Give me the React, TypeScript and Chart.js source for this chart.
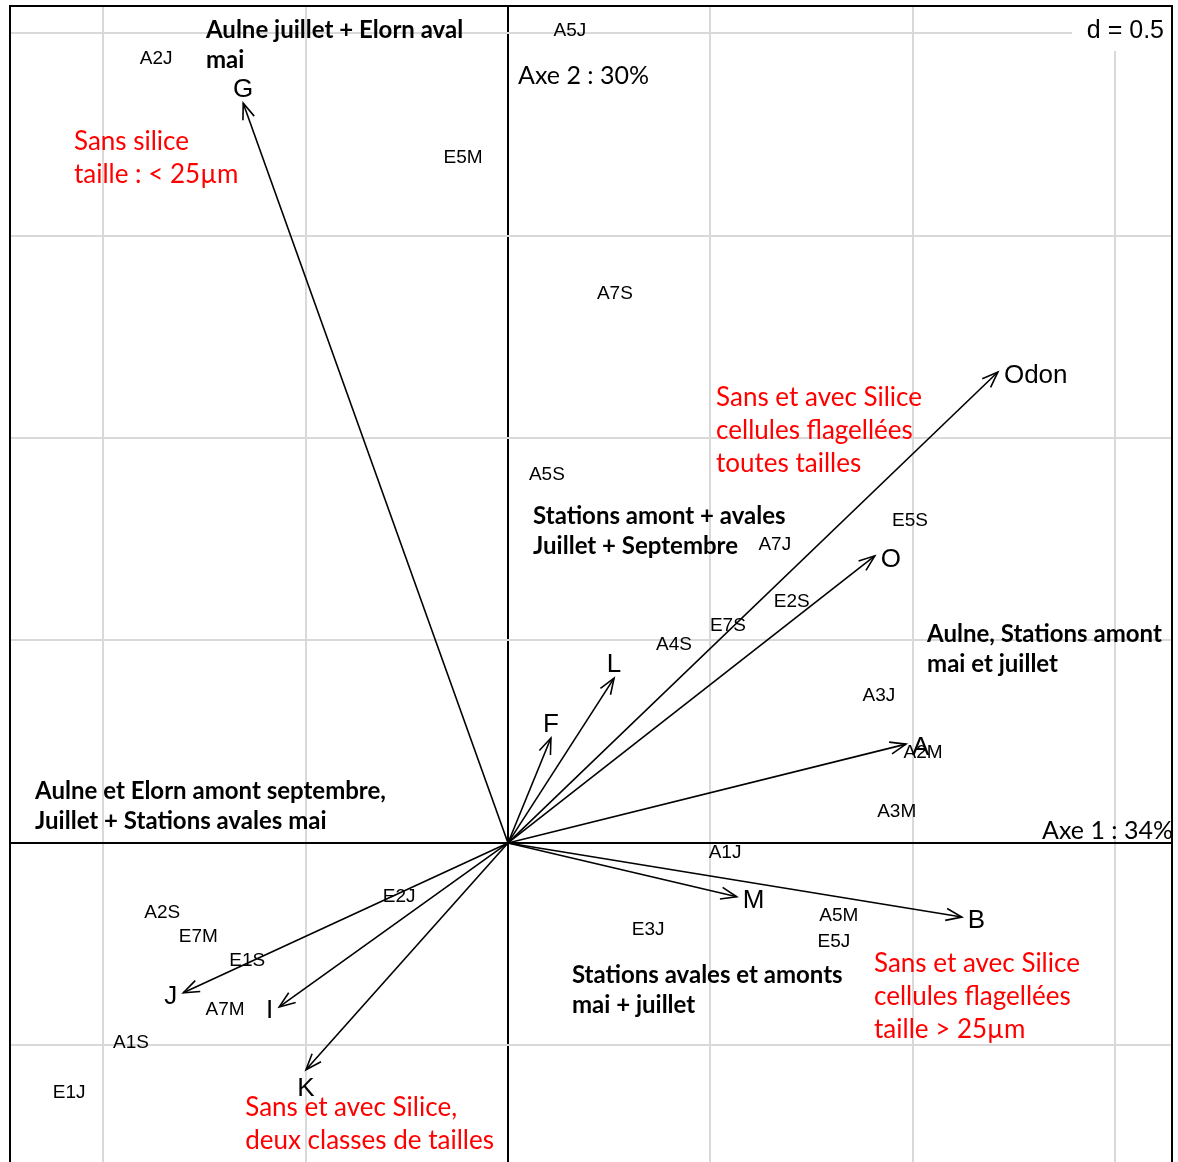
import { useEffect, useRef } from "react";
import { Chart, registerables } from "chart.js";

Chart.register(...registerables);

// Variables (arrows)
const arrowNames = ["G", "Odon", "O", "L", "F", "A", "M", "B", "J", "I", "K"];
const arrowX = [-0.654, 1.21, 0.906, 0.262, 0.106, 0.983, 0.565, 1.121, -0.802, -0.565, -0.499];
const arrowY = [1.827, 1.163, 0.709, 0.407, 0.259, 0.244, -0.133, -0.183, -0.37, -0.405, -0.56];

// Stations (labels)
const stationNames = [
  "A2J", "A5J", "E5M", "A7S", "A5S", "E5S", "A7J", "E2S", "E7S", "A4S", "A3J", "A2M",
  "A3M", "A1J", "A5M", "E5J", "E3J", "E2J", "A2S", "E7M", "E1S", "A7M", "A1S", "E1J",
];
const stationX = [
  -0.869, 0.153, -0.111, 0.264, 0.096, 0.993, 0.659, 0.701, 0.543, 0.41, 0.916, 1.025,
  0.96, 0.536, 0.817, 0.805, 0.346, -0.269, -0.854, -0.765, -0.644, -0.699, -0.931, -1.084,
];
const stationY = [
  1.938, 2.008, 1.694, 1.36, 0.911, 0.798, 0.738, 0.598, 0.538, 0.491, 0.365, 0.225,
  0.079, -0.022, -0.178, -0.242, -0.212, -0.131, -0.17, -0.23, -0.289, -0.41, -0.491, -0.615,
];

// Axis extents and grid
const xMin = -1.23;
const xMax = 1.64;
const yMin = -0.788;
const yMax = 2.067;
const gridStep = 0.5;
const gridLabel = "d = 0.5";
const axis1Label = "Axe 1 : 34%";
const axis2Label = "Axe 2 : 30%";

// Annotations (text blocks)
const boldNotes = [
  { lines: ["Aulne juillet + Elorn aval", "mai"], x: -0.746, y: 2.007 },
  { lines: ["Stations amont + avales", "Juillet + Septembre"], x: 0.062, y: 0.807 },
  { lines: ["Aulne, Stations amont", "mai et juillet"], x: 1.035, y: 0.516 },
  { lines: ["Aulne et Elorn amont septembre,", "Juillet + Stations avales mai"], x: -1.168, y: 0.128 },
  { lines: ["Stations avales et amonts", "mai + juillet"], x: 0.158, y: -0.326 },
];
const redNotes = [
  { lines: ["Sans silice", "taille : < 25µm"], x: -1.072, y: 1.733 },
  { lines: ["Sans et avec Silice", "cellules flagellées", "toutes tailles"], x: 0.514, y: 1.099 },
  { lines: ["Sans et avec Silice", "cellules flagellées", "taille > 25µm"], x: 0.904, y: -0.299 },
  { lines: ["Sans et avec Silice,", "deux classes de tailles"], x: -0.649, y: -0.654 },
];

const SANS = "'Liberation Sans', Arial, sans-serif";
const CAL = "Lato, 'Open Sans', sans-serif";
const SQUEEZE = 1.0;

function drawNote(ctx: CanvasRenderingContext2D, text: string, x: number, y: number, font: string, color: string, align: CanvasTextAlign = "left") {
  ctx.save();
  ctx.font = font;
  ctx.fillStyle = color;
  ctx.textBaseline = "middle";
  ctx.textAlign = align;
  ctx.translate(x, y);
  ctx.scale(SQUEEZE, 1);
  ctx.fillText(text, 0, 0);
  ctx.restore();
}

const biplotPlugin = {
  id: "biplot",
  beforeDatasetsDraw(chart: any) {
    const ctx = chart.ctx as CanvasRenderingContext2D;
    const xs = chart.scales.x;
    const ys = chart.scales.y;
    boldNotes.forEach((n) => {
      n.lines.forEach((l, i) => {
        drawNote(ctx, l, xs.getPixelForValue(n.x), ys.getPixelForValue(n.y) + i * 30, `bold 24px ${CAL}`, "#000");
      });
    });
    redNotes.forEach((n) => {
      n.lines.forEach((l, i) => {
        drawNote(ctx, l, xs.getPixelForValue(n.x), ys.getPixelForValue(n.y) + i * 33, `26px ${CAL}`, "#ff0000");
      });
    });
  },
  afterDatasetsDraw(chart: any) {
    const ctx = chart.ctx as CanvasRenderingContext2D;
    const xs = chart.scales.x;
    const ys = chart.scales.y;
    const area = chart.chartArea;

    // arrowheads + arrow labels
    arrowNames.forEach((name, i) => {
      const meta = chart.getDatasetMeta(i);
      const p0 = meta.data[0];
      const p1 = meta.data[1];
      const dx = p1.x - p0.x;
      const dy = p1.y - p0.y;
      const ang = Math.atan2(dy, dx);
      const L = 17;
      const a = 0.36;
      ctx.save();
      ctx.strokeStyle = "#000";
      ctx.lineWidth = 1.6;
      ctx.beginPath();
      ctx.moveTo(p1.x - L * Math.cos(ang - a), p1.y - L * Math.sin(ang - a));
      ctx.lineTo(p1.x, p1.y);
      ctx.lineTo(p1.x - L * Math.cos(ang + a), p1.y - L * Math.sin(ang + a));
      ctx.stroke();
      ctx.font = `26px ${SANS}`;
      ctx.fillStyle = "#000";
      if (Math.abs(dx) > Math.abs(dy)) {
        ctx.textBaseline = "middle";
        ctx.textAlign = dx > 0 ? "left" : "right";
        ctx.fillText(name, p1.x + (dx > 0 ? 6 : -6), p1.y + 4);
      } else {
        ctx.textAlign = "center";
        if (dy < 0) {
          ctx.textBaseline = "alphabetic";
          ctx.fillText(name, p1.x, p1.y - 6);
        } else {
          ctx.textBaseline = "top";
          ctx.fillText(name, p1.x, p1.y + 6);
        }
      }
      ctx.restore();
    });

    // station labels
    const smeta = chart.getDatasetMeta(arrowNames.length);
    ctx.save();
    ctx.font = `19px ${SANS}`;
    ctx.fillStyle = "#000";
    ctx.textAlign = "center";
    ctx.textBaseline = "middle";
    stationNames.forEach((s, i) => {
      const p = smeta.data[i];
      ctx.fillText(s, p.x, p.y + 1);
    });
    ctx.restore();

    // axis percentage labels
    drawNote(ctx, axis2Label, xs.getPixelForValue(0) + 10, ys.getPixelForValue(1.894), `25px ${CAL}`, "#000");
    drawNote(ctx, axis1Label, area.right + 1, ys.getPixelForValue(0) - 12, `25px ${CAL}`, "#000", "right");

    // d = 0.5 box
    ctx.save();
    ctx.fillStyle = "#fff";
    ctx.fillRect(area.right - 100, area.top + 1, 99, 44);
    ctx.font = `25px ${SANS}`;
    ctx.fillStyle = "#000";
    ctx.textAlign = "right";
    ctx.textBaseline = "middle";
    ctx.fillText(gridLabel, area.right - 8, area.top + 25);
    ctx.restore();

    // frame (left, top, right)
    ctx.save();
    ctx.strokeStyle = "#000";
    ctx.lineWidth = 2;
    ctx.beginPath();
    ctx.moveTo(area.left, area.bottom + 2);
    ctx.lineTo(area.left, area.top);
    ctx.lineTo(area.right, area.top);
    ctx.lineTo(area.right, area.bottom + 2);
    ctx.stroke();
    ctx.restore();
  },
};

export default function App() {
  const ref = useRef<HTMLCanvasElement | null>(null);
  useEffect(() => {
    document.body.style.margin = "0";
    const canvas = ref.current;
    if (!canvas) return;
    const datasets: any[] = arrowNames.map((n, i) => ({
      type: "line",
      label: n,
      data: [
        { x: 0, y: 0 },
        { x: arrowX[i], y: arrowY[i] },
      ],
      borderColor: "#000",
      borderWidth: 1.6,
      pointRadius: 0,
      fill: false,
      showLine: true,
    }));
    datasets.push({
      type: "scatter",
      label: "stations",
      data: stationNames.map((_, i) => ({ x: stationX[i], y: stationY[i] })),
      pointRadius: 0,
      backgroundColor: "transparent",
      borderColor: "transparent",
    });
    const gridColor = (c: any) => (c.tick && c.tick.value === 0 ? "#000" : "#d9d9d9");
    const chart = new Chart(canvas, {
      type: "scatter",
      data: { datasets },
      options: {
        responsive: false,
        animation: false,
        events: [],
        layout: { padding: { left: 10, top: 6, right: 6, bottom: 0 } },
        plugins: { legend: { display: false }, tooltip: { enabled: false } },
        scales: {
          x: {
            type: "linear",
            min: xMin,
            max: xMax,
            ticks: { display: false, stepSize: gridStep, includeBounds: false },
            grid: { color: gridColor, lineWidth: 2, drawTicks: false },
            border: { display: false },
          },
          y: {
            type: "linear",
            min: yMin,
            max: yMax,
            ticks: { display: false, stepSize: gridStep, includeBounds: false },
            grid: { color: gridColor, lineWidth: 2, drawTicks: false },
            border: { display: false },
          },
        },
      },
      plugins: [biplotPlugin],
    } as any);
    return () => chart.destroy();
  }, []);
  return (
    <div style={{ width: 1178, height: 1162, position: "relative" }}>
      <canvas ref={ref} width={1178} height={1162} style={{ display: "block" }} />
    </div>
  );
}
